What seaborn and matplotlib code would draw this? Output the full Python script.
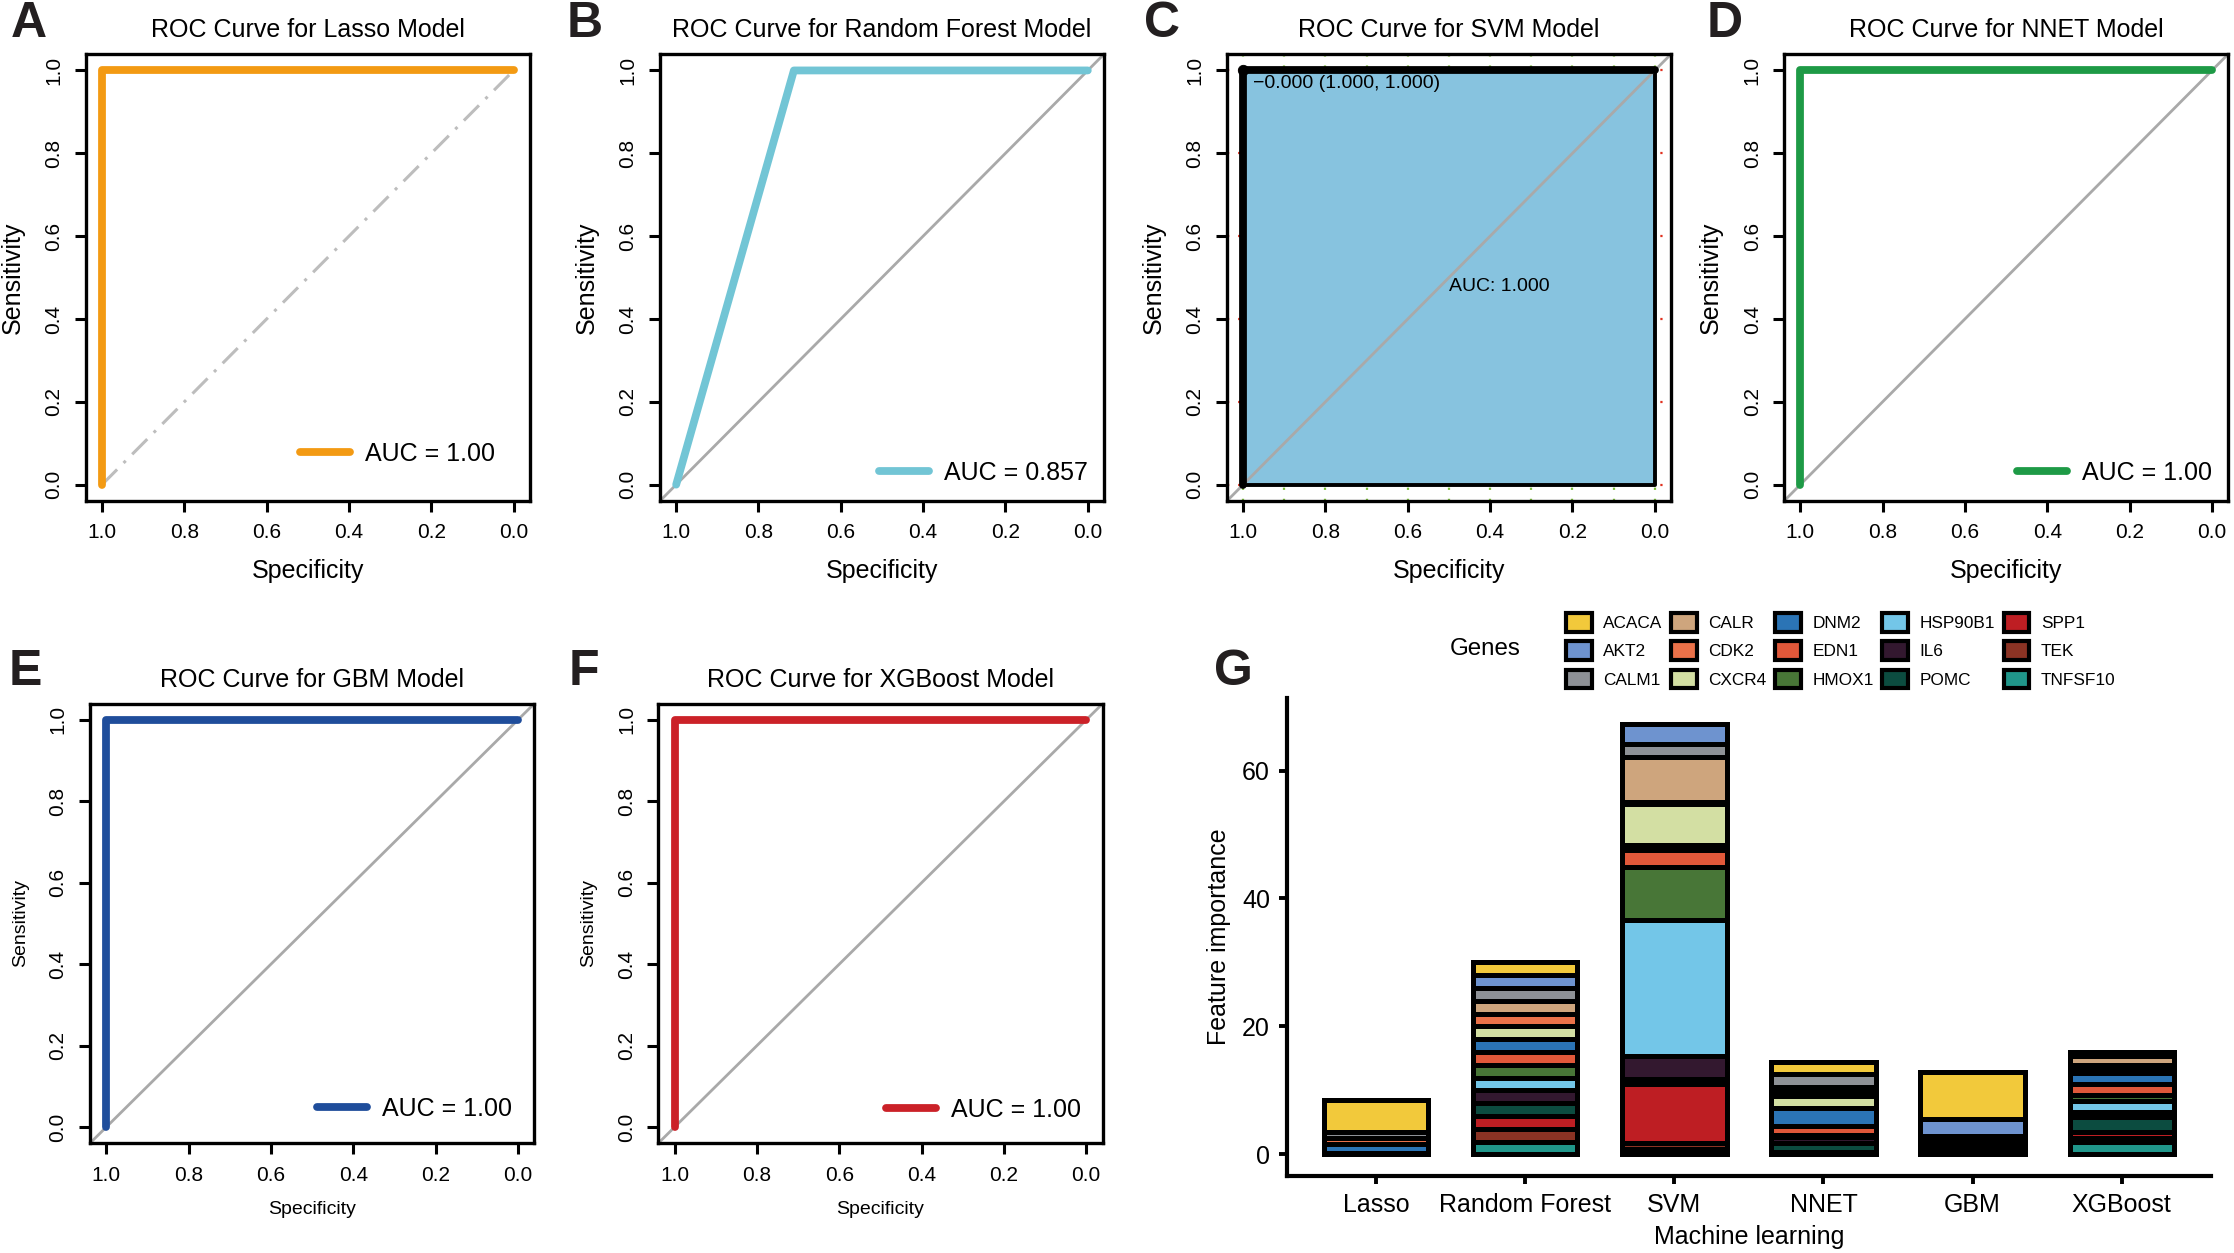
import numpy as np
import pandas as pd
import matplotlib
matplotlib.use("Agg")
import matplotlib.pyplot as plt
from matplotlib.patches import Patch
import seaborn as sns

# ROC curves: specificity (x, reversed axis) and sensitivity (y)
lasso_spec = [1.0, 1.0, 0.0]
lasso_sens = [0.0, 1.0, 1.0]
rf_spec = [1.0, 0.714, 0.0]
rf_sens = [0.0, 1.0, 1.0]
svm_spec = [1.0, 1.0, 0.0]
svm_sens = [0.0, 1.0, 1.0]
nnet_spec = [1.0, 1.0, 0.0]
nnet_sens = [0.0, 1.0, 1.0]
gbm_spec = [1.0, 1.0, 0.0]
gbm_sens = [0.0, 1.0, 1.0]
xgb_spec = [1.0, 1.0, 0.0]
xgb_sens = [0.0, 1.0, 1.0]

chance_spec = [1.0, 0.0]
chance_sens = [0.0, 1.0]

auc_lasso = "AUC = 1.00"
auc_rf = "AUC = 0.857"
auc_nnet = "AUC = 1.00"
auc_gbm = "AUC = 1.00"
auc_xgb = "AUC = 1.00"
svm_auc_text = "AUC: 1.000"
svm_thres_text = "\u22120.000 (1.000, 1.000)"
svm_best_spec = [1.0]
svm_best_sens = [1.0]

# feature importance per model (order of genes below)
genes = ["ACACA", "AKT2", "CALM1", "CALR", "CDK2", "CXCR4", "DNM2", "EDN1",
         "HMOX1", "HSP90B1", "IL6", "POMC", "SPP1", "TEK", "TNFSF10"]
gene_colors = ["#F2C93B", "#6E93CF", "#8E9196", "#CEA57D", "#EA7149",
               "#D3DFA3", "#2B74B5", "#E0583A", "#487637", "#73C6E8",
               "#33182F", "#0C4C40", "#BE1E23", "#8B3324", "#20968A"]
models = ["Lasso", "Random Forest", "SVM", "NNET", "GBM", "XGBoost"]

lasso_imp = [5.05, 0.0, 0.94, 0.0, 0.94, 0.0, 1.36, 0.05, 0.05, 0.0, 0.05, 0.05, 0.0, 0.0, 0.0]
rf_imp = [2.0] * 15
svm_imp = [0.0, 3.07, 2.03, 7.14, 0.31, 6.46, 0.68, 2.71, 8.28, 21.3, 3.6, 0.73, 9.17, 0.99, 0.83]
nnet_imp = [1.77, 0.0, 2.03, 0.65, 0.9, 1.88, 2.76, 1.4, 0.15, 0.15, 0.9, 1.51, 0.1, 0.1, 0.1]
gbm_imp = [7.24, 2.7, 0.3, 0.22, 0.83, 0.2, 0.2, 0.15, 0.15, 0.15, 0.15, 0.15, 0.15, 0.1, 0.15]
xgb_imp = [0.25, 0.2, 0.23, 1.4, 0.85, 0.4, 1.77, 1.61, 1.04, 1.67, 0.73, 2.4, 0.94, 0.63, 1.93]

sns.set_theme(style="ticks")
plt.rcParams["font.family"] = ["Liberation Sans", "DejaVu Sans"]
plt.rcParams["text.color"] = "black"
plt.rcParams["axes.labelcolor"] = "black"
plt.rcParams["xtick.color"] = "black"
plt.rcParams["ytick.color"] = "black"
plt.rcParams["axes.edgecolor"] = "black"

fig = plt.figure(figsize=(11.17, 6.265), dpi=200)


def roc_axes(ax, title, label_size=9):
    ax.set_xlim(1.04, -0.04)
    ax.set_ylim(-0.04, 1.04)
    ticks = np.arange(0, 1.01, 0.2)
    ax.set_xticks(ticks)
    ax.set_yticks(ticks)
    ax.set_xticklabels([f"{t:.1f}" for t in ticks])
    ax.set_yticklabels([f"{t:.1f}" for t in ticks], rotation=90, va="center")
    ax.tick_params(direction="out", length=4, width=1.1, labelsize=7.5, pad=4)
    for s in ax.spines.values():
        s.set_linewidth(1.2)
        s.set_color("black")
    ax.set_xlabel("Specificity", fontsize=label_size, labelpad=6)
    ax.set_ylabel("Sensitivity", fontsize=label_size, labelpad=7)
    ax.set_title(title, fontsize=9, pad=6)
    ax.grid(False)


def roc_panel(rect, spec, sens, color, title, auc_label, label_size=9,
              dotdash=False, leg_pad=0.5):
    ax = fig.add_axes(rect)
    if dotdash:
        ax.plot(chance_spec, chance_sens, color="#BDBDBD", lw=1.1,
                ls=(0, (7, 3, 1, 3)), zorder=1)
    else:
        ax.axline((chance_spec[0], chance_sens[0]), (chance_spec[1], chance_sens[1]),
                  color="#A9A9A9", lw=1.0, zorder=1)
    sns.lineplot(x=spec, y=sens, color=color, lw=2.8, sort=False, estimator=None,
                 ax=ax, label=auc_label, solid_capstyle="round", zorder=3)
    ax.legend(loc="lower right", frameon=False, fontsize=9, handlelength=2.0,
              handletextpad=0.6, borderaxespad=leg_pad)
    roc_axes(ax, title, label_size)
    return ax


row1_b, row1_h = 0.600, 0.357
row2_b, row2_h = 0.0875, 0.351
w = 0.199

roc_panel([0.0383, row1_b, w, row1_h], lasso_spec, lasso_sens, "#F39A13",
          "ROC Curve for Lasso Model", auc_lasso, dotdash=True, leg_pad=1.0)
roc_panel([0.2953, row1_b, w, row1_h], rf_spec, rf_sens, "#72C5D5",
          "ROC Curve for Random Forest Model", auc_rf, leg_pad=0.25)

# SVM panel in pROC style
axc = fig.add_axes([0.5491, row1_b, w, row1_h])
for gx in np.arange(0, 1.01, 0.1):
    axc.axvline(gx, color="#7DBE3C", lw=0.8, ls=(0, (1, 4)), zorder=0)
for gy in np.arange(0, 1.01, 0.2):
    axc.axhline(gy, color="#E0301E", lw=0.8, ls=(0, (1, 4)), zorder=0)
axc.fill_between(svm_spec, svm_sens, 0, facecolor="#87C3DF", edgecolor="black",
                 lw=1.4, zorder=1)
axc.axline((chance_spec[0], chance_sens[0]), (chance_spec[1], chance_sens[1]),
           color="#A9A9A9", lw=1.0, zorder=2)
sns.lineplot(x=svm_spec, y=svm_sens, color="black", lw=2.8, sort=False,
             estimator=None, ax=axc, solid_capstyle="round", zorder=3)
sns.scatterplot(x=svm_best_spec, y=svm_best_sens, color="black", s=14,
                ax=axc, zorder=4, edgecolor="black")
axc.text(svm_best_spec[0] - 0.025, svm_best_sens[0] - 0.01, svm_thres_text,
         ha="left", va="top", fontsize=7, zorder=5)
axc.text(0.5, 0.5, svm_auc_text, ha="left", va="top", fontsize=7, zorder=5)
roc_axes(axc, "ROC Curve for SVM Model")

roc_panel([0.7985, row1_b, w, row1_h], nnet_spec, nnet_sens, "#1E9A46",
          "ROC Curve for NNET Model", auc_nnet, leg_pad=0.25)
roc_panel([0.0402, row2_b, w, row2_h], gbm_spec, gbm_sens, "#1F4D9B",
          "ROC Curve for GBM Model", auc_gbm, label_size=7, leg_pad=0.5)
roc_panel([0.2946, row2_b, w, row2_h], xgb_spec, xgb_sens, "#CB2128",
          "ROC Curve for XGBoost Model", auc_xgb, label_size=7, leg_pad=0.45)

# stacked feature importance
imp = {"Lasso": lasso_imp, "Random Forest": rf_imp, "SVM": svm_imp,
       "NNET": nnet_imp, "GBM": gbm_imp, "XGBoost": xgb_imp}
rows = [(m, g, v) for m in models for g, v in zip(genes, imp[m])]
df = pd.DataFrame(rows, columns=["model", "gene", "importance"])
df["model"] = pd.Categorical(df["model"], categories=models, ordered=True)

axg = fig.add_axes([0.5759, 0.0614, 0.4139, 0.3818])
sns.histplot(data=df, x="model", weights="importance", hue="gene",
             hue_order=genes, palette=dict(zip(genes, gene_colors)),
             multiple="stack", discrete=True, shrink=0.7, alpha=1,
             edgecolor="black", linewidth=1.8, legend=False, ax=axg)
axg.set_xlim(-0.6, len(models) - 0.4)
axg.set_ylim(-3.4, 71.4)
axg.set_yticks([0, 20, 40, 60])
axg.set_xticks(range(len(models)))
axg.set_xticklabels(models)
axg.tick_params(direction="out", length=3, width=1.4, labelsize=9, pad=3)
sns.despine(ax=axg)
for s in ["left", "bottom"]:
    axg.spines[s].set_linewidth(1.5)
axg.set_xlabel("Machine learning", fontsize=9, labelpad=3)
axg.set_ylabel("Feature importance", fontsize=9, labelpad=4)
axg.grid(False)

handles = [Patch(facecolor=c, edgecolor="black", linewidth=1.5) for c in gene_colors]
fig.legend(handles, genes, ncol=5, loc="center left",
           bbox_to_anchor=(0.694, 0.4807), frameon=False, fontsize=6.2,
           handlelength=1.5, handleheight=1.3, handletextpad=0.66,
           columnspacing=0.5, labelspacing=0.55, borderpad=0.4)
fig.text(0.665, 0.482, "Genes", fontsize=8.7, ha="center", va="center")

# panel letters
letters = {"A": (0.0128, 0.981), "B": (0.2615, 0.981), "C": (0.520, 0.981),
           "D": (0.772, 0.981), "E": (0.0115, 0.464), "F": (0.2615, 0.464),
           "G": (0.552, 0.464)}
for k, (lx, ly) in letters.items():
    fig.text(lx, ly, k, fontsize=18, fontweight="bold", color="#231F20",
             ha="center", va="center")

fig.savefig("out.png", dpi=200)
